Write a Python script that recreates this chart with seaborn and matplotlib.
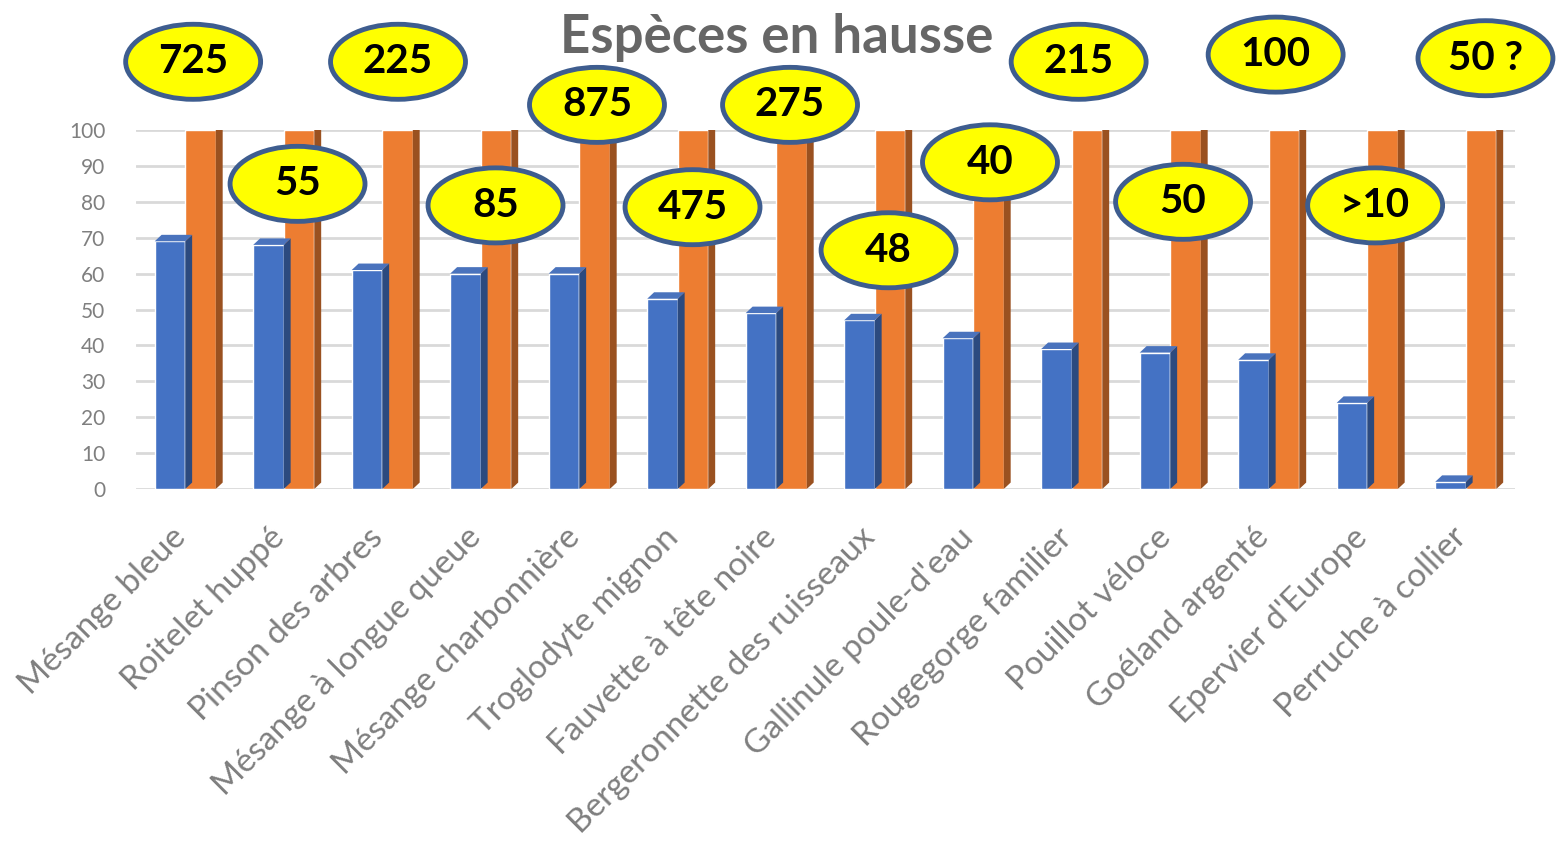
import seaborn as sns
import matplotlib.pyplot as plt
import matplotlib.transforms as mtransforms
import pandas as pd
from matplotlib.patches import Ellipse, Polygon

species = ["Mésange bleue", "Roitelet huppé", "Pinson des arbres",
           "Mésange à longue queue", "Mésange charbonnière", "Troglodyte mignon",
           "Fauvette à tête noire", "Bergeronnette des ruisseaux",
           "Gallinule poule-d'eau", "Rougegorge familier", "Pouillot véloce",
           "Goéland argenté", "Epervier d'Europe", "Perruche à collier"]
serie1 = [69, 68, 61, 60, 60, 53, 49, 47, 42, 39, 38, 36, 24, 2]
serie2 = [100] * 14
bubbles = ["725", "55", "225", "85", "875", "475", "275", "48", "40",
           "215", "50", "100", ">10", "50 ?"]
# where the yellow bubbles sit (data units)
bubble_y = [119, 85, 119, 79, 107, 78.5, 107, 66.5, 91, 119, 80, 121, 79, 120]
bubble_dx = [0.08, 0.14, 0.16, 0.15, 0.18, 0.15, 0.14, 0.14, 0.17, 0.07, 0.13, 0.07, 0.08, 0.2]

df = pd.DataFrame({
    "espece": species * 2,
    "valeur": serie1 + serie2,
    "serie": ["Série1"] * 14 + ["Série2"] * 14,
})

sns.set_style("white")
plt.rcParams["font.family"] = ["Lato", "DejaVu Sans"]

fig = plt.figure(figsize=(15.57, 8.43), dpi=100)
ax = fig.add_axes([136 / 1557, 1 - 489 / 843, 1379 / 1557, 359 / 843])

sns.barplot(data=df, x="espece", y="valeur", hue="serie", order=species,
            palette=["#4472C4", "#ED7D31"], saturation=1, width=0.62, gap=0,
            legend=False, ax=ax, zorder=3)

ax.set_ylim(0, 100)
ax.set_xlim(-0.5, len(species) - 0.5)
ax.set_yticks(range(0, 101, 10))
ax.yaxis.grid(True, color="#d9d9d9", lw=2, zorder=0)
ax.set_axisbelow(True)
for s in ax.spines.values():
    s.set_visible(False)
ax.set_xlabel("")
ax.set_ylabel("")
ax.tick_params(axis="y", length=0, labelsize=15, labelcolor="#7f7f7f", pad=22)
ax.tick_params(axis="x", length=0, pad=24)
shift = mtransforms.ScaledTranslation(-0.15, 0, fig.dpi_scale_trans)
for t in ax.get_xticklabels():
    t.set_rotation(45)
    t.set_ha("right")
    t.set_rotation_mode("anchor")
    t.set_fontsize(24)
    t.set_color("#7f7f7f")
    t.set_transform(t.get_transform() + shift)

# fake 3D faces on each bar
dx, dy = 0.07, 1.8
for p in list(ax.patches):
    x0, w, h = p.get_x(), p.get_width(), p.get_height()
    c = p.get_facecolor()
    dark = tuple(v * 0.65 for v in c[:3])
    light = tuple(min(1, v * 0.9 + 0.05) for v in c[:3])
    ax.add_patch(Polygon([(x0 + w, 0), (x0 + w, h), (x0 + w + dx, h + dy), (x0 + w + dx, dy)],
                         closed=True, fc=dark, ec="none", zorder=3))
    ax.add_patch(Polygon([(x0, h), (x0 + w, h), (x0 + w + dx, h + dy), (x0 + dx, h + dy)],
                         closed=True, fc=light, ec="none", zorder=3))

for i, (lab, yv, ox) in enumerate(zip(bubbles, bubble_y, bubble_dx)):
    e = Ellipse((i + ox, yv), 1.37, 20.9, fc="#ffff00", ec="#3e5d8f", lw=3.5,
                clip_on=False, zorder=10)
    ax.add_patch(e)
    ax.text(i + ox, yv, lab, ha="center", va="center", fontsize=29,
            fontweight="bold", color="black", zorder=11, clip_on=False)

fig.text(777 / 1557, 1 - 38 / 843, "Espèces en hausse", ha="center", va="center",
         fontsize=38, fontweight="bold", color="#666666")

fig.savefig("out.png", dpi=100)
